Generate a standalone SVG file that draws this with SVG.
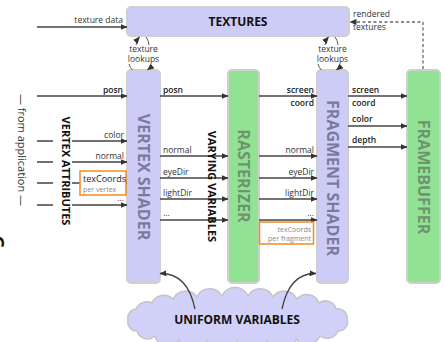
<svg xmlns="http://www.w3.org/2000/svg" width="445" height="342" viewBox="0 0 445 342">
  <style>
    .lbl { font-family: "Open Sans", "Noto Sans", "DejaVu Sans", sans-serif; font-size: 8.5px; fill: #333; }
    .lblb { font-family: "Open Sans", "Noto Sans", "DejaVu Sans", sans-serif; font-size: 8.5px; fill: #222; font-weight: 600; }
    .small { font-family: "Open Sans", "Noto Sans", "DejaVu Sans", sans-serif; font-size: 7px; fill: #888; }
    .side { font-family: "Open Sans", "Noto Sans", "DejaVu Sans", sans-serif; font-size: 11px; font-weight: 700; fill: #111; }
    .app { font-family: "Open Sans", "Noto Sans", "DejaVu Sans", sans-serif; font-size: 11px; fill: #333; }
    .shader { fill: #ccccf7; stroke: #cfcfcf; stroke-width: 2; }
    .stage { fill: #92e294; stroke: #cfcfcf; stroke-width: 2; }
    .title-s { font-family: "Open Sans", "Noto Sans", "DejaVu Sans", sans-serif; font-size: 16px; font-weight: 700; fill: #7a7a9c; }
    .title-g { font-family: "Open Sans", "Noto Sans", "DejaVu Sans", sans-serif; font-size: 16px; font-weight: 700; fill: #6e946e; }
    .title-k { font-family: "Open Sans", "Noto Sans", "DejaVu Sans", sans-serif; font-size: 12px; font-weight: 700; fill: #111; }
    .wire { stroke: #444; stroke-width: 1.3; fill: none; }
    .thin { stroke: #444; stroke-width: 0.9; fill: none; }
    .dash { stroke: #666; stroke-width: 1.3; fill: none; stroke-dasharray: 3 2.5; }
    .halo { paint-order: stroke; stroke: #fff; stroke-width: 3px; }
  </style>
  <defs>
    <marker id="arr" markerUnits="userSpaceOnUse" markerWidth="7" markerHeight="6" refX="6.5" refY="3" orient="auto">
      <path d="M0,0 L7,3 L0,6 z" fill="#333"/>
    </marker>
  </defs>

  <rect width="445" height="342" fill="#fff"/>

  <!-- stage boxes -->
  <g id="textures">
    <rect class="shader" x="127" y="7" width="222" height="29" rx="4"/>
    <text class="title-k" x="238" y="25.5" text-anchor="middle">TEXTURES</text>
  </g>
  <g id="vertex-shader">
    <rect class="shader" x="127" y="70" width="33" height="213" rx="4"/>
    <text class="title-s" transform="translate(143.5,177) rotate(90)" text-anchor="middle" dominant-baseline="central">VERTEX SHADER</text>
  </g>
  <g id="rasterizer">
    <rect class="stage" x="228" y="70" width="31" height="213" rx="4"/>
    <text class="title-g" transform="translate(243.5,176) rotate(90)" text-anchor="middle" dominant-baseline="central">RASTERIZER</text>
  </g>
  <g id="fragment-shader">
    <rect class="shader" x="317" y="70" width="31" height="213" rx="4"/>
    <text class="title-s" transform="translate(332.5,178) rotate(90)" text-anchor="middle" dominant-baseline="central">FRAGMENT SHADER</text>
  </g>
  <g id="framebuffer">
    <rect class="stage" x="407" y="70" width="33" height="213" rx="4"/>
    <text class="title-g" transform="translate(423.5,177) rotate(90)" text-anchor="middle" dominant-baseline="central">FRAMEBUFFER</text>
  </g>
  <g id="uniform-variables">
    <path fill="#d0d0f8" stroke="#c4c4c4" stroke-width="1.5" d="M128,320 A9,9 0 0 1 136,309 A12,12 0 0 1 152,303 A13,13 0 0 1 173,299 A14,14 0 0 1 197,297 A14,14 0 0 1 222,296 A14,14 0 0 1 248,296 A14,14 0 0 1 273,297 A14,14 0 0 1 297,299 A13,13 0 0 1 319,303 A11,11 0 0 1 336,309 A9,9 0 0 1 347,319 A9,9 0 0 1 338,331 A12,12 0 0 1 320,336 A14,14 0 0 1 296,339 A15,15 0 0 1 267,340 A15,15 0 0 1 237,341 A15,15 0 0 1 207,340 A14,14 0 0 1 179,339 A13,13 0 0 1 155,336 A11,11 0 0 1 137,331 A9,9 0 0 1 128,320 z"/>
    <text class="title-k" x="237" y="324" text-anchor="middle">UNIFORM VARIABLES</text>
  </g>

  <!-- connectors -->
  <g id="connectors">
    <!-- inputs from the application -->
    <path class="wire" d="M37,27 H127" marker-end="url(#arr)"/>
    <path class="wire" d="M37,96 H127" marker-end="url(#arr)"/>
    <path class="wire" d="M37,141 H53 M72,141 H127" marker-end="url(#arr)"/>
    <path class="wire" d="M37,162 H53 M72,162 H127" marker-end="url(#arr)"/>
    <path class="wire" d="M37,183 H53 M72,183 H127" marker-end="url(#arr)"/>
    <path class="wire" d="M37,205 H53 M72,205 H127" marker-end="url(#arr)"/>

    <!-- vertex shader to rasterizer -->
    <path class="wire" d="M160,96 H228" marker-end="url(#arr)"/>
    <path class="wire" d="M160,156 H228" marker-end="url(#arr)"/>
    <path class="wire" d="M160,178 H228" marker-end="url(#arr)"/>
    <path class="wire" d="M160,199 H228" marker-end="url(#arr)"/>
    <path class="wire" d="M160,220 H228" marker-end="url(#arr)"/>

    <!-- rasterizer to fragment shader -->
    <path class="wire" d="M259,96 H317" marker-end="url(#arr)"/>
    <path class="wire" d="M259,156 H317" marker-end="url(#arr)"/>
    <path class="wire" d="M259,178 H317" marker-end="url(#arr)"/>
    <path class="wire" d="M259,199 H317" marker-end="url(#arr)"/>
    <path class="wire" d="M259,220 H317" marker-end="url(#arr)"/>

    <!-- fragment shader to framebuffer -->
    <path class="wire" d="M348,96 H407" marker-end="url(#arr)"/>
    <path class="wire" d="M348,126 H407" marker-end="url(#arr)"/>
    <path class="wire" d="M348,147 H407" marker-end="url(#arr)"/>

    <!-- render-to-texture feedback -->
    <path class="dash" d="M423,69 V22 H350" marker-end="url(#arr)"/>

    <!-- texture lookups (vertex stage) -->
    <path class="thin" d="M136,45 Q137,40 139.5,37" marker-end="url(#arr)"/>
    <path class="thin" d="M146,37 Q148.5,40 149,45"/>
    <path class="thin" d="M129,64 Q130,68 132.5,70"/>
    <path class="thin" d="M151,64 Q150,68 147.5,70" marker-end="url(#arr)"/>
    <!-- texture lookups (fragment stage) -->
    <path class="thin" d="M325,45 Q326,40 328.5,37" marker-end="url(#arr)"/>
    <path class="thin" d="M335,37 Q337.5,40 338,45"/>
    <path class="thin" d="M318,64 Q319,68 321.5,70"/>
    <path class="thin" d="M340,64 Q339,68 336.5,70" marker-end="url(#arr)"/>

    <!-- uniforms feeding both shaders -->
    <path class="wire" d="M195,309 C190,285 178,273 160,273.5" marker-end="url(#arr)"/>
    <path class="wire" d="M282,309 C287,285 299,273 316,273.5" marker-end="url(#arr)"/>
  </g>

  <!-- connector labels -->
  <g id="labels">
    <text class="lbl" x="123" y="23" text-anchor="end">texture data</text>
    <text class="lbl" x="143.5" y="52" text-anchor="middle">texture</text>
    <text class="lbl" x="143.5" y="62" text-anchor="middle">lookups</text>
    <text class="lbl" x="332.5" y="52" text-anchor="middle">texture</text>
    <text class="lbl" x="332.5" y="62" text-anchor="middle">lookups</text>
    <text class="lbl" x="353" y="17">rendered</text>
    <text class="lbl" x="353" y="30">textures</text>

    <text class="lblb" x="123" y="93" text-anchor="end">posn</text>
    <text class="lblb" x="163" y="93">posn</text>
    <text class="lblb" x="314" y="93" text-anchor="end">screen</text>
    <text class="lblb" x="314" y="106" text-anchor="end">coord</text>
    <text class="lblb" x="352" y="93">screen</text>
    <text class="lblb" x="352" y="106">coord</text>
    <text class="lblb" x="352" y="122">color</text>
    <text class="lblb" x="352" y="143">depth</text>

    <text class="lbl" x="124" y="137.5" text-anchor="end">color</text>
    <text class="lbl" x="124" y="158.5" text-anchor="end">normal</text>
    <text class="lbl" x="124" y="201" text-anchor="end">...</text>

    <text class="lbl" x="163" y="152.5">normal</text>
    <text class="lbl" x="163" y="174.5">eyeDir</text>
    <text class="lbl" x="163" y="195.5">lightDir</text>
    <text class="lbl" x="163" y="216">...</text>

    <text class="lbl" x="314" y="152.5" text-anchor="end">normal</text>
    <text class="lbl" x="314" y="174.5" text-anchor="end">eyeDir</text>
    <text class="lbl" x="314" y="195.5" text-anchor="end">lightDir</text>
    <text class="lbl" x="314" y="216" text-anchor="end">...</text>

    <rect x="80" y="171" width="46" height="24" fill="#fff" stroke="#f08a24" stroke-width="1.5"/>
    <text class="lbl" x="83" y="181.5" style="font-size:9px;fill:#222">texCoords</text>
    <text class="small" x="83" y="192">per vertex</text>

    <rect x="259.5" y="222" width="54" height="22" fill="#fff" stroke="#f08a24" stroke-width="1.5"/>
    <text class="small" x="311" y="231.5" text-anchor="end">texCoords</text>
    <text class="small" x="311" y="240.5" text-anchor="end">per fragment</text>

    <text class="side halo" transform="translate(66,171) rotate(90)" text-anchor="middle" dominant-baseline="central">VERTEX ATTRIBUTES</text>
    <text class="side" transform="translate(212,186.5) rotate(90)" text-anchor="middle" dominant-baseline="central">VARYING VARIABLES</text>
    <text class="app" transform="translate(22,150) rotate(90)" text-anchor="middle" dominant-baseline="central">— from application —</text>
    <text class="side" transform="translate(-2,242) rotate(90)" text-anchor="middle" dominant-baseline="central" style="font-size:18px">G</text>
  </g>
</svg>
